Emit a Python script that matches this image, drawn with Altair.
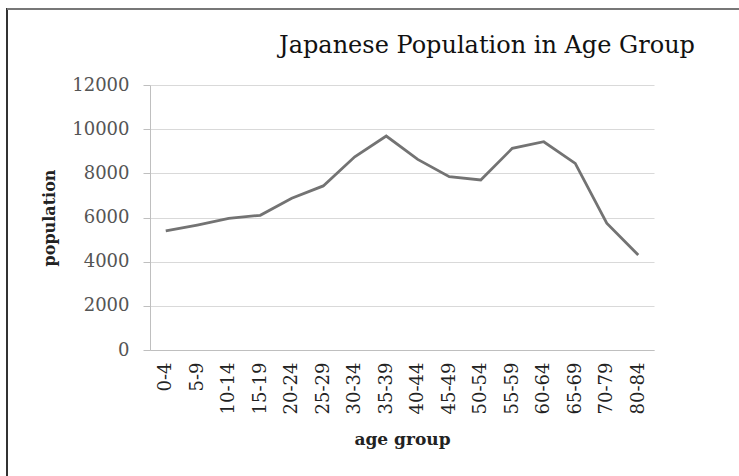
import altair as alt
import pandas as pd

age_groups = ["0-4", "5-9", "10-14", "15-19", "20-24", "25-29", "30-34", "35-39",
              "40-44", "45-49", "50-54", "55-59", "60-64", "65-69", "70-79", "80-84"]
population = [5390, 5660, 5960, 6100, 6870, 7430, 8750, 9690,
              8630, 7850, 7700, 9130, 9430, 8450, 5740, 4300]
title_text = ["Japanese Population in Age Group"]

df = pd.DataFrame({"age group": age_groups, "population": population})

SERIF = "DejaVu Serif"

line = alt.Chart(df).mark_line(color="#737373", strokeWidth=2.8).encode(
    x=alt.X("age group:O", sort=age_groups,
            scale=alt.Scale(padding=0.5),
            axis=alt.Axis(title="age group", labelAngle=-90, labelPadding=12,
                          ticks=False, domainColor="#bfbfbf", grid=False,
                          labelFont=SERIF, labelFontSize=18, labelColor="#222",
                          titleFont=SERIF, titleFontSize=17, titleFontWeight="bold",
                          titleColor="#222", titlePadding=18)),
    y=alt.Y("population:Q", scale=alt.Scale(domain=[0, 12000]),
            axis=alt.Axis(title="population", values=[0, 2000, 4000, 6000, 8000, 10000, 12000],
                          format="d",
                          tickSize=7, tickColor="#bfbfbf", domainColor="#bfbfbf",
                          gridColor="#d9d9d9", labelPadding=14,
                          labelFont=SERIF, labelFontSize=18, labelColor="#555",
                          titleFont=SERIF, titleFontSize=16, titleFontWeight="bold",
                          titleColor="#222", titlePadding=14)),
)

title = alt.Chart(pd.DataFrame({"t": title_text})).mark_text(
    font=SERIF, fontSize=24, color="#111", align="center", baseline="alphabetic"
).encode(text="t:N", x=alt.value(337), y=alt.value(-32))

border_left = alt.Chart(df).mark_rule(color="#333", strokeWidth=2).encode(
    x=alt.value(-143), y=alt.value(-77), y2=alt.value(395))
border_top = alt.Chart(df).mark_rule(color="#777", strokeWidth=2).encode(
    x=alt.value(-143), x2=alt.value(590), y=alt.value(-76))

chart = alt.layer(line, title, border_left, border_top).properties(
    width=504, height=265,
    autosize=alt.AutoSizeParams(type="none"),
    padding={"left": 150, "top": 85, "right": 85, "bottom": 126},
).configure_view(stroke=None)

chart.save("out.html", embed_options={"renderer": "svg", "actions": False})
